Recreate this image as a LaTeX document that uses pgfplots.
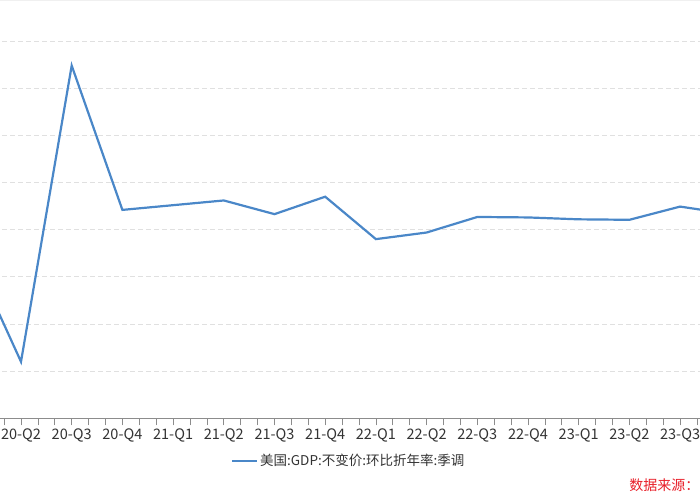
\documentclass[border=0pt]{standalone}
\usepackage{fontspec}
\setmainfont{Noto Sans CJK SC}
\usepackage{pgfplots}
\pgfplotsset{compat=1.18}
\definecolor{lineblue}{HTML}{4A87C8}
\definecolor{gridgray}{HTML}{E0E0E0}
\definecolor{axisgray}{HTML}{8C8C8C}
\definecolor{labgray}{HTML}{333333}
\definecolor{srcred}{HTML}{E8202A}
\begin{document}
\begin{tikzpicture}
\clip (0,0) rectangle (700pt,500pt);
\fill[gray!12] (0,498.5pt) rectangle (700pt,500pt);
\begin{axis}[
  at={(-29.7pt,81.7pt)}, anchor=south west,
  scale only axis, width=760.5pt, height=424.35pt,
  xmin=0, xmax=15, ymin=-40, ymax=50,
  xtick={0,...,15},
  xticklabels={{},20-Q2,20-Q3,20-Q4,21-Q1,21-Q2,21-Q3,21-Q4,22-Q1,22-Q2,22-Q3,22-Q4,23-Q1,23-Q2,23-Q3,{}},
  minor x tick num=2,
  ytick={-40,-30,...,50}, yticklabels={},
  ymajorgrids,
  grid style={gridgray, dash pattern=on 5pt off 3pt, line width=0.8pt},
  axis line style={axisgray, line width=0.8pt},
  tick style={axisgray, line width=0.8pt},
  tick align=outside, xtick pos=bottom, ytick pos=left,
  major tick length=7pt, minor tick length=7pt,
  ticklabel style={font=\fontsize{14.5}{16}\selectfont, text=labgray},
  legend style={at={(0.4975,-0.1006)}, anchor=center, draw=none, fill=none,
    font=\fontsize{13.5}{16}\selectfont, text=labgray},
  legend image code/.code={\draw[#1] (0pt,0pt) -- (25pt,0pt);},
]
\addplot[lineblue, line width=2.2pt, mark=none] coordinates {
(0,-4.4) (1,-28.0) (2,34.8) (3,4.2) (4,5.2) (5,6.2) (6,3.3) (7,7.0)
(8,-2.0) (9,-0.6) (10,2.7) (11,2.6) (12,2.2) (13,2.1) (14,4.9) (15,3.3)
};
\addlegendentry{美国:GDP:不变价:环比折年率:季调}
\end{axis}
\node[anchor=east, text=srcred, font=\fontsize{14}{16}\selectfont, inner sep=0pt] at (699.5pt,15pt) {数据来源：};
\end{tikzpicture}
\end{document}
